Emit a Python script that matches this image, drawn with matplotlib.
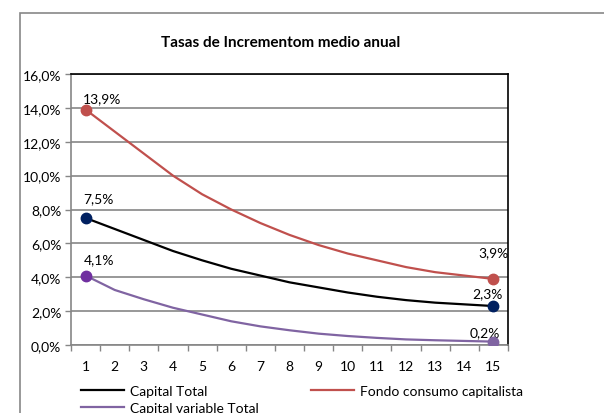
import matplotlib
matplotlib.use("Agg")
import matplotlib.pyplot as plt
from matplotlib.patches import Rectangle
from matplotlib.ticker import FuncFormatter, FixedLocator

plt.rcParams['font.family'] = ['Lato', 'DejaVu Sans']

years = list(range(1, 16))
capital_total = [7.5, 6.85, 6.2, 5.55, 5.0, 4.5, 4.1, 3.7, 3.4, 3.1, 2.85, 2.65, 2.5, 2.4, 2.3]
fondo_consumo = [13.9, 12.6, 11.3, 10.0, 8.9, 8.0, 7.2, 6.5, 5.9, 5.4, 5.0, 4.6, 4.3, 4.1, 3.9]
capital_variable = [4.1, 3.25, 2.7, 2.2, 1.8, 1.4, 1.1, 0.87, 0.67, 0.53, 0.42, 0.33, 0.28, 0.24, 0.2]
series_names = ["Capital Total", "Fondo consumo capitalista", "Capital variable Total"]
yticks = [0, 2, 4, 6, 8, 10, 12, 14, 16]

fig = plt.figure(figsize=(6.04, 4.14), dpi=100)
# outer chart frame (cropped on the right and bottom, like the original)
fig.patches.append(Rectangle((20/604, -0.1), 1.0, (414-14)/414 + 0.1, transform=fig.transFigure,
                             fill=False, edgecolor='#878787', linewidth=1.2))

ax = fig.add_axes([71/604, (414-346)/414, 437/604, 271/414])

lines = []
for vals, col in [(capital_total, 'black'),
                  (fondo_consumo, '#C0504D'),
                  (capital_variable, '#8064A2')]:
    l, = ax.plot(years, vals, color=col, linewidth=1.6, zorder=3)
    lines.append(l)

# end markers
ms = 7.5
ax.plot([years[0], years[-1]], [fondo_consumo[0], fondo_consumo[-1]], 'o', color='#C0504D', ms=ms, zorder=4)
ax.plot([years[0], years[-1]], [capital_total[0], capital_total[-1]], 'o', color='#002060', ms=ms, zorder=4)
ax.plot([years[0]], [capital_variable[0]], 'o', color='#7030A0', ms=ms, zorder=4)
ax.plot([years[-1]], [capital_variable[-1]], 'o', color='#8064A2', ms=ms, zorder=4)

def lbl(v):
    return f"{v:.1f}".replace('.', ',') + "%"

for vals, off0, off1 in [(fondo_consumo, (12, 8), (0, 19)),
                         (capital_total, (9, 14), (-4, 9)),
                         (capital_variable, (10, 12), (-6, 7))]:
    ax.annotate(lbl(vals[0]), (years[0], vals[0]), xytext=off0, textcoords='offset points',
                ha='center', va='center', fontsize=10)
    ax.annotate(lbl(vals[-1]), (years[-1], vals[-1]), xytext=off1, textcoords='offset points',
                ha='center', va='center', fontsize=10)

ax.set_xlim(0.5, 15.5)
ax.set_ylim(0, 16)
ax.set_yticks(yticks)
ax.yaxis.set_major_formatter(FuncFormatter(lambda v, p: lbl(v)))
ax.set_xticks(years)
ax.xaxis.set_minor_locator(FixedLocator([x + 0.5 for x in range(0, 16)]))
ax.tick_params(axis='x', which='major', length=0, pad=11, labelsize=10)
ax.tick_params(axis='x', which='minor', length=4, color='#868686', width=1)
ax.tick_params(axis='y', length=4, color='#868686', width=1, labelsize=10, pad=3)

ax.grid(axis='y', color='#868686', linewidth=1.2, zorder=1)
ax.set_axisbelow(True)
for s in ['left', 'bottom']:
    ax.spines[s].set_color('#868686')
    ax.spines[s].set_linewidth(1.2)
for s in ['top', 'right']:
    ax.spines[s].set_color('black')
    ax.spines[s].set_linewidth(1.2)

fig.text(281/604, 1 - 43/414, "Tasas de Incrementom medio anual", ha='center', va='center',
         fontsize=11, fontweight='bold')

# row-major legend order: Capital Total, Fondo | Capital variable on 2nd row
order = [0, 2, 1]
fig.legend([lines[i] for i in order], [series_names[i] for i in order], loc='upper left',
           bbox_to_anchor=(74/604, 1 - 379/414),
           ncol=2, frameon=False, fontsize=10, handlelength=3.1, handletextpad=0.4,
           columnspacing=3.8, labelspacing=0.35, borderpad=0)

fig.savefig("out.png", dpi=100)
